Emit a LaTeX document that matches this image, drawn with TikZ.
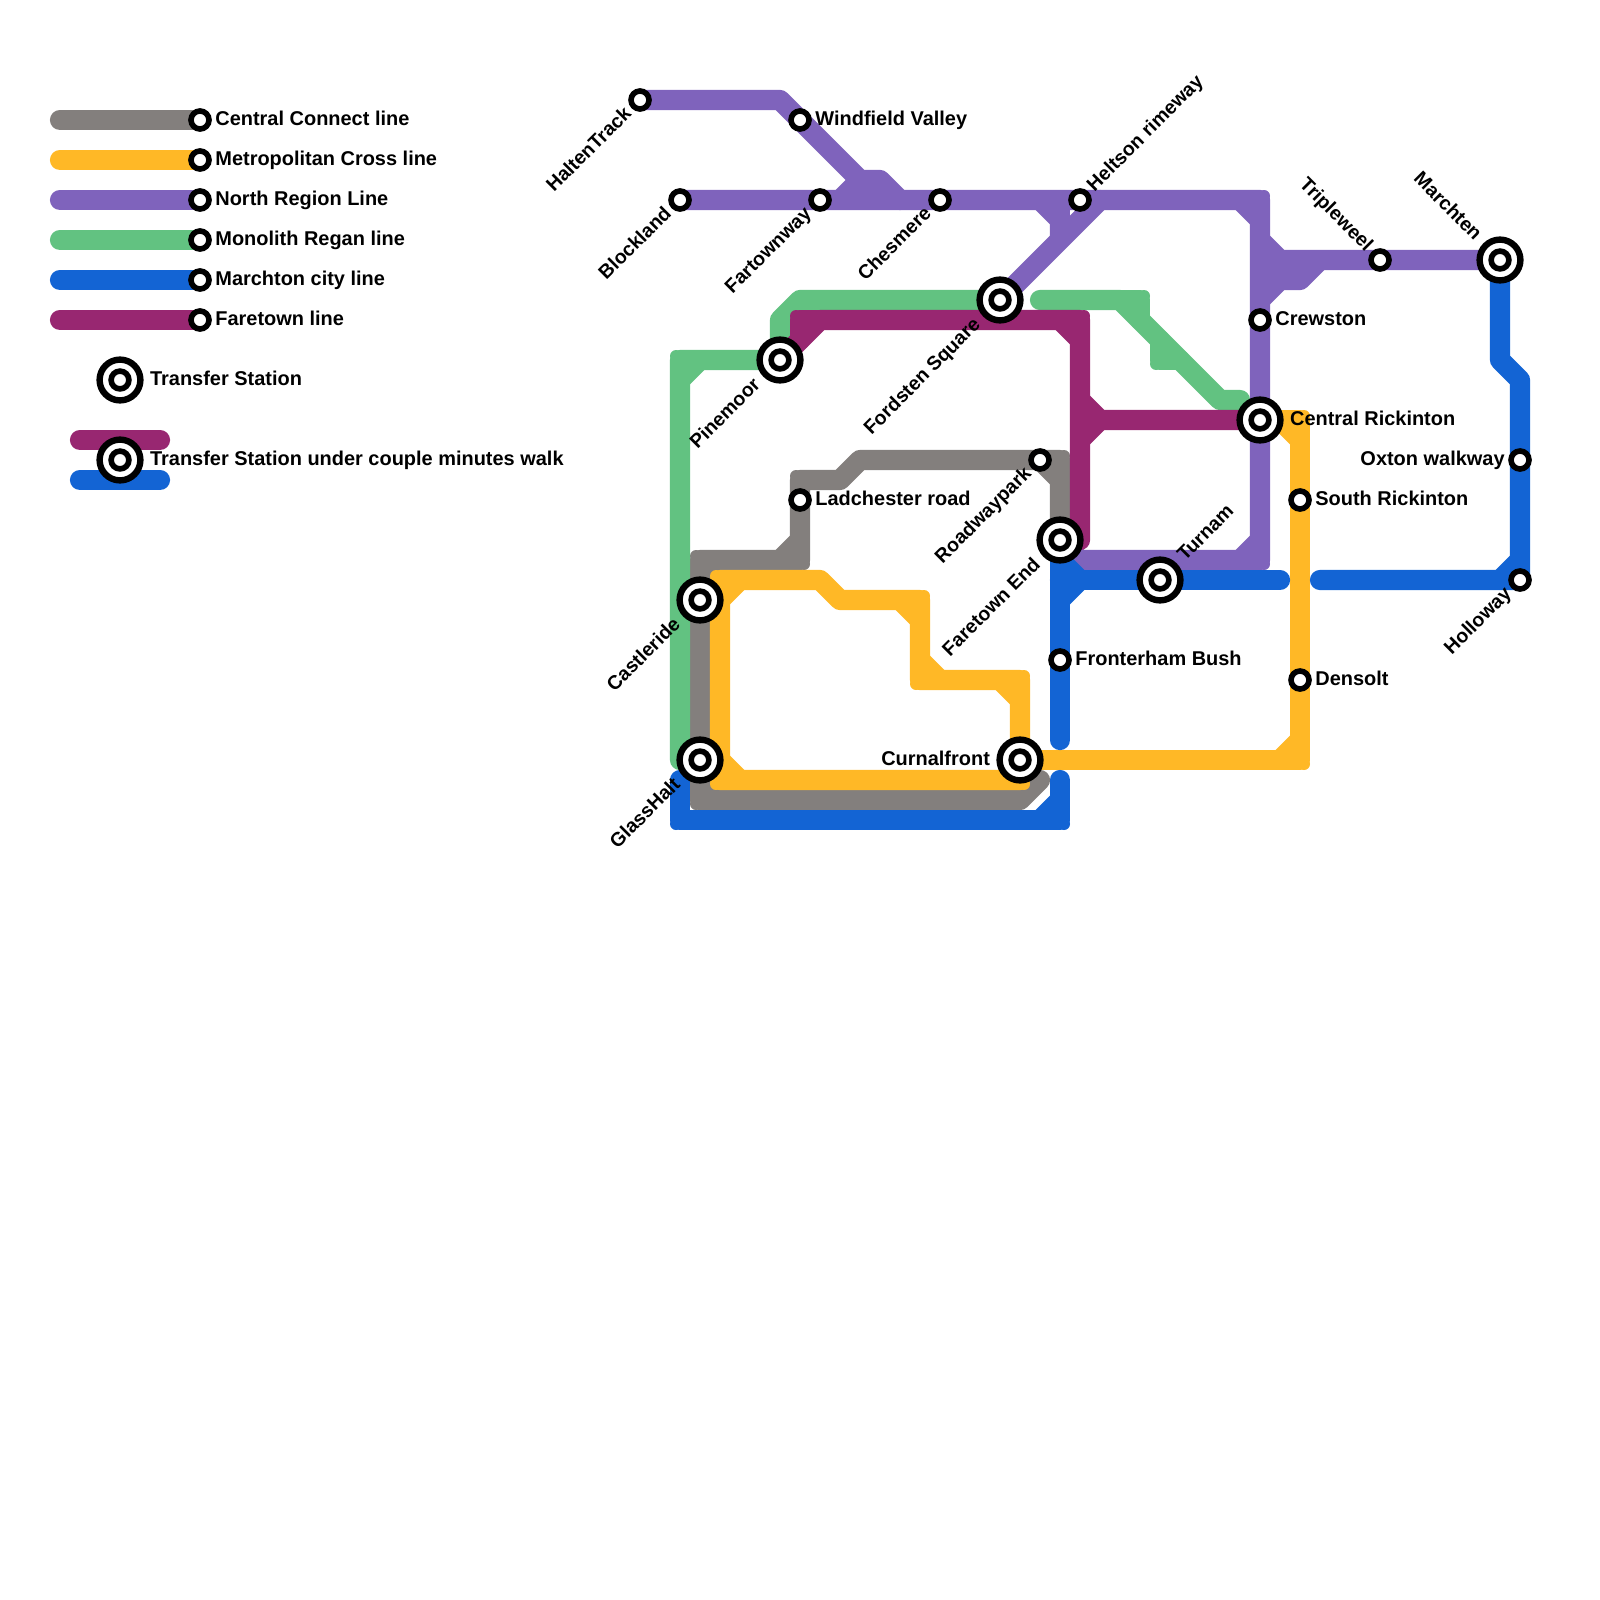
\documentclass[tikz,border=0pt]{standalone}
\usepackage{fontspec}
\setmainfont{Liberation Sans}
\usetikzlibrary{positioning,backgrounds}
\definecolor{connectgray}{HTML}{837F7D}
\definecolor{crossyellow}{HTML}{FFB826}
\definecolor{regionpurple}{HTML}{7F63BC}
\definecolor{regangreen}{HTML}{62C281}
\definecolor{cityblue}{HTML}{1364D4}
\definecolor{faretownred}{HTML}{982771}
\tikzset{
  route/.style={line width=20.2, line cap=round, line join=round},
  cut/.style={line cap=butt},
  connectline/.style={route, connectgray},
  crossline/.style={route, crossyellow},
  regionline/.style={route, regionpurple},
  reganline/.style={route, regangreen},
  cityline/.style={route, cityblue},
  faretownline/.style={route, faretownred},
  stop/.style={circle, draw=black, fill=white, line width=5.6, minimum size=18, inner sep=0},
  transfer/.style={circle, draw=black, fill=white, line width=6.4, minimum size=40.8, inner sep=0,
    path picture={\draw[line width=5.6] (path picture bounding box.center) circle (8.9);}},
  txt/.style={font=\bfseries\fontsize{19.95}{20}\selectfont, inner sep=0, outer sep=0, text height=15, text depth=5},
  tiltfont/.style={txt, font=\bfseries\fontsize{19.5}{20}\selectfont},
  tagdown/.style={tiltfont, rotate=45, anchor=east, xshift=-4pt},
  tagup/.style={tiltfont, rotate=45, anchor=west, xshift=4pt},
  tagback/.style={tiltfont, rotate=-45, anchor=east, xshift=-4pt},
}
\begin{document}
\begin{tikzpicture}[x=1pt, y=-1pt]
  \useasboundingbox (0,0) rectangle (1600,1600);

  % Legend
  \node[stop] (LegConnect) at (200,120) {};
  \node[stop] (LegCross) at (200,160) {};
  \node[stop] (LegRegion) at (200,200) {};
  \node[stop] (LegRegan) at (200,240) {};
  \node[stop] (LegCity) at (200,280) {};
  \node[stop] (LegFaretown) at (200,320) {};
  \node[transfer] (LegTransfer) at (120,380) {};
  \node[transfer] (LegWalk) at (120,460) {};
  \node[txt, right=3.6pt of LegConnect] (TxtConnect) {Central Connect line};
  \node[txt, right=3.6pt of LegCross] (TxtCross) {Metropolitan Cross line};
  \node[txt, right=3.6pt of LegRegion] (TxtRegion) {North Region Line};
  \node[txt, right=3.6pt of LegRegan] (TxtRegan) {Monolith Regan line};
  \node[txt, right=3.6pt of LegCity] (TxtCity) {Marchton city line};
  \node[txt, right=3.6pt of LegFaretown] (TxtFaretown) {Faretown line};
  \node[txt, right=6.5pt of LegTransfer] (TxtTransfer) {Transfer Station};
  \node[txt, right=6.5pt of LegWalk] (TxtWalk) {Transfer Station under couple minutes walk};

  % Stations
  \node[stop] (HaltenTrack) at (640,100) {};
  \node[stop] (WindfieldValley) at (800,120) {};
  \node[stop] (Blockland) at (680,200) {};
  \node[stop] (Fartownway) at (820,200) {};
  \node[stop] (Chesmere) at (940,200) {};
  \node[stop] (HeltsonRimeway) at (1080,200) {};
  \node[transfer] (FordstenSquare) at (1000,300) {};
  \node[transfer] (Pinemoor) at (780,360) {};
  \node[stop] (LadchesterRoad) at (800,500) {};
  \node[stop] (Roadwaypark) at (1040,460) {};
  \node[transfer] (FaretownEnd) at (1060,540) {};
  \node[transfer] (Turnam) at (1160,580) {};
  \node[transfer] (Castleride) at (700,600) {};
  \node[transfer] (GlassHalt) at (700,760) {};
  \node[transfer] (Curnalfront) at (1020,760) {};
  \node[stop] (FronterhamBush) at (1060,660) {};
  \node[stop] (Crewston) at (1260,320) {};
  \node[transfer] (CentralRickinton) at (1260,420) {};
  \node[stop] (SouthRickinton) at (1300,500) {};
  \node[stop] (Densolt) at (1300,680) {};
  \node[stop] (Tripleweel) at (1380,260) {};
  \node[transfer] (Marchten) at (1500,260) {};
  \node[stop] (OxtonWalkway) at (1520,460) {};
  \node[stop] (Holloway) at (1520,580) {};

  % Station names
  \node[tagdown] (TxtHalten) at (HaltenTrack.south west) {HaltenTrack};
  \node[txt, right=3.6pt of WindfieldValley] (TxtWindfield) {Windfield Valley};
  \node[tagdown] (TxtBlockland) at (Blockland.south west) {Blockland};
  \node[tagdown] (TxtFartownway) at (Fartownway.south west) {Fartownway};
  \node[tagdown] (TxtChesmere) at (Chesmere.south west) {Chesmere};
  \node[tagup] (TxtHeltson) at (HeltsonRimeway.north east) {Heltson rimeway};
  \node[tagdown, xshift=-4pt] (TxtFordsten) at (FordstenSquare.south west) {Fordsten Square};
  \node[tagdown, xshift=-4pt] (TxtPinemoor) at (Pinemoor.south west) {Pinemoor};
  \node[txt, right=3.6pt of LadchesterRoad] (TxtLadchester) {Ladchester road};
  \node[tagdown] (TxtRoadwaypark) at (Roadwaypark.south west) {Roadwaypark};
  \node[tagdown, xshift=-4pt] (TxtFaretownEnd) at (FaretownEnd.south west) {Faretown End};
  \node[tagup, xshift=3pt] (TxtTurnam) at (Turnam.north east) {Turnam};
  \node[tagdown, xshift=-4pt] (TxtCastleride) at (Castleride.south west) {Castleride};
  \node[tagdown, xshift=-4pt] (TxtGlassHalt) at (GlassHalt.south west) {GlassHalt};
  \node[txt, left=6.5pt of Curnalfront] (TxtCurnalfront) {Curnalfront};
  \node[txt, right=3.6pt of FronterhamBush] (TxtFronterham) {Fronterham Bush};
  \node[txt, right=3.6pt of Crewston] (TxtCrewston) {Crewston};
  \node[txt, right=6.5pt of CentralRickinton] (TxtCentral) {Central Rickinton};
  \node[txt, right=3.6pt of SouthRickinton] (TxtSouth) {South Rickinton};
  \node[txt, right=3.6pt of Densolt] (TxtDensolt) {Densolt};
  \node[tagback] (TxtTripleweel) at (Tripleweel.north west) {Tripleweel};
  \node[tagback, xshift=-4pt] (TxtMarchten) at (Marchten.north west) {Marchten};
  \node[txt, left=3.6pt of OxtonWalkway] (TxtOxton) {Oxton walkway};
  \node[tagdown] (TxtHolloway) at (Holloway.south west) {Holloway};

  \begin{scope}[on background layer]
    % Legend lines
    \draw[connectline] (60,120) -- (LegConnect.center);
    \draw[crossline] (60,160) -- (LegCross.center);
    \draw[regionline] (60,200) -- (LegRegion.center);
    \draw[reganline] (60,240) -- (LegRegan.center);
    \draw[cityline] (60,280) -- (LegCity.center);
    \draw[faretownline] (60,320) -- (LegFaretown.center);
    \draw[faretownline] (80,440) -- (160,440);
    \draw[cityline] (80,480) -- (160,480);

    % Central Connect
    \draw[connectline] (FaretownEnd.center) -- (1060,460) -- (860,460) -- (840,480) -- (800,480) -- (800,560) -- (700,560) -- (700,800) -- (1020,800) -- (1040,780);
    \draw[connectline, cut] (Roadwaypark.center) -- (1060,480);
    \draw[connectline, cut] (780,560) -- (800,540);
    \draw[connectline, cut] (700,580) -- (720,560);
    \draw[connectline, cut] (700,780) -- (720,800);
    \fill[connectgray] (1064,456) circle (6) (796,476) circle (6) (804,564) circle (6) (696,556) circle (6) (696,804) circle (6);

    % Metropolitan Cross
    \draw[crossline] (Curnalfront.center) -- (1020,780) -- (720,780) -- (720,580) -- (820,580) -- (840,600) -- (920,600) -- (920,680) -- (1020,680) -- (Curnalfront.center);
    \draw[crossline, cut] (720,600) -- (740,580);
    \draw[crossline, cut] (720,760) -- (740,780);
    \draw[crossline, cut] (900,600) -- (920,620);
    \draw[crossline, cut] (920,660) -- (940,680);
    \draw[crossline, cut] (1000,680) -- (1020,700);
    \draw[crossline] (Curnalfront.center) -- (1300,760) -- (1300,420) -- (CentralRickinton.center);
    \draw[crossline, cut] (1280,760) -- (1300,740);
    \draw[crossline, cut] (1280,420) -- (1300,440);
    \fill[crossyellow] (1024,784) circle (6) (716,784) circle (6) (716,576) circle (6) (924,596) circle (6) (916,684) circle (6) (1024,676) circle (6) (1304,764) circle (6) (1304,416) circle (6);

    % North Region
    \draw[regionline] (HaltenTrack.center) -- (780,100) -- (860,180) -- (880,180) -- (900,200);
    \draw[regionline] (Blockland.center) -- (1260,200) -- (1260,560) -- (1080,560) -- (FaretownEnd.center);
    \draw[regionline, cut] (840,200) -- (860,180);
    \draw[regionline] (FordstenSquare.center) -- (1100,200);
    \draw[regionline, cut] (1040,200) -- (1060,220) -- (1060,240);
    \draw[regionline, cut] (1060,200) -- (1060,220);
    \draw[regionline, cut] (1240,200) -- (1260,220);
    \draw[regionline, cut] (1240,560) -- (1260,540);
    \draw[regionline, cut] (1260,240) -- (1280,260) -- (Marchten.center);
    \draw[regionline, cut] (1260,300) -- (1280,280) -- (1300,280) -- (1320,260);
    \draw[regionline, cut] (1260,270) -- (1290,270);
    \fill[regionpurple] (1264,196) circle (6) (1264,564) circle (6);

    % Monolith Regan
    \draw[reganline] (680,760) -- (680,360) -- (Pinemoor.center) -- (780,320) -- (800,300) -- (FordstenSquare.center);
    \draw[reganline, cut] (680,380) -- (700,360);
    \draw[reganline] (1040,300) -- (1120,300) -- (1220,400) -- (1240,400);
    \draw[reganline] (1120,300) -- (1140,300) -- (1140,320);
    \draw[reganline] (1160,340) -- (1160,360) -- (1180,360);
    \fill[regangreen] (676,356) circle (6) (1144,296) circle (6) (1156,364) circle (6);

    % Marchton city
    \draw[cityline] (FaretownEnd.center) -- (1060,740);
    \draw[cityline, cut] (1060,560) -- (1080,580);
    \draw[cityline] (1060,580) -- (1280,580);
    \draw[cityline, cut] (1060,600) -- (1080,580);
    \draw[cityline] (1320,580) -- (Holloway.center) -- (1520,380) -- (1500,360) -- (Marchten.center);
    \draw[cityline, cut] (1500,580) -- (1520,560);
    \draw[cityline] (680,780) -- (680,820) -- (1060,820) -- (1060,780);
    \draw[cityline, cut] (1040,820) -- (1060,800);
    \fill[cityblue] (676,824) circle (6) (1064,824) circle (6);

    % Faretown
    \draw[faretownline] (Pinemoor.center) -- (820,320) -- (1080,320) -- (1080,540) -- (FaretownEnd.center);
    \draw[faretownline] (800,340) -- (800,320) -- (820,320);
    \draw[faretownline, cut] (1060,320) -- (1080,340);
    \draw[faretownline, cut] (1080,400) -- (1100,420) -- (CentralRickinton.center);
    \draw[faretownline, cut] (1080,440) -- (1100,420);
    \fill[faretownred] (796,316) circle (6) (1084,316) circle (6);
  \end{scope}
\end{tikzpicture}
\end{document}
